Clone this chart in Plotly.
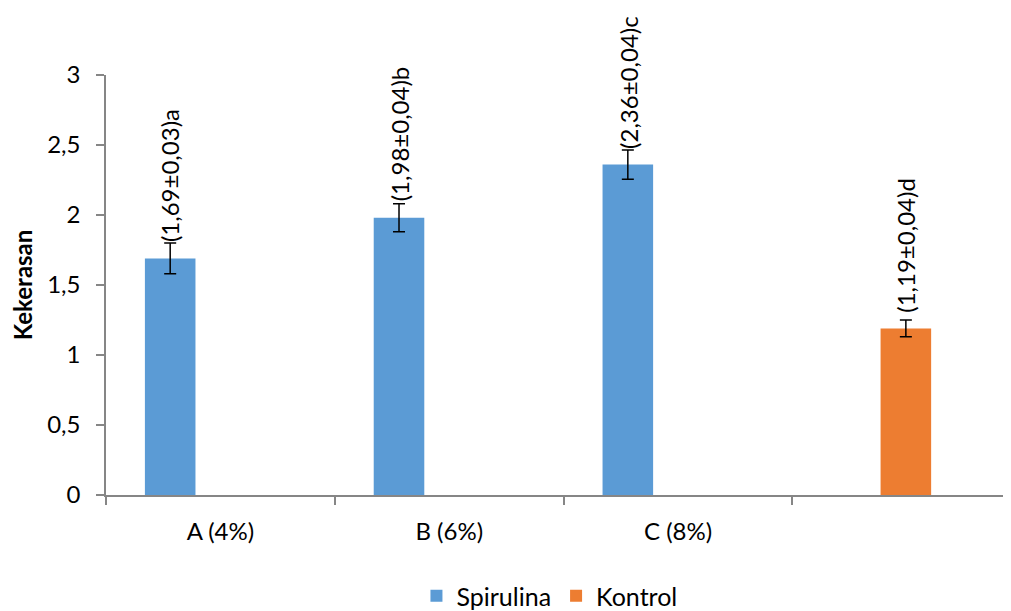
import plotly.graph_objects as go

categories = ["A (4%)", "B (6%)", "C (8%)", " "]
spirulina_x = ["A (4%)", "B (6%)", "C (8%)"]
spirulina_y = [1.69, 1.98, 2.36]
spirulina_err = [0.11, 0.10, 0.105]
spirulina_labels = ["(1,69±0,03)a", "(1,98±0,04)b", "(2,36±0,04)c"]
kontrol_x = [" "]
kontrol_y = [1.19]
kontrol_err = [0.06]
kontrol_labels = ["(1,19±0,04)d"]
y_ticks = [0, 0.5, 1, 1.5, 2, 2.5, 3]

FONT = "Lato, 'Open Sans', sans-serif"
AXIS_COLOR = "#868686"
BAR_W = 0.221
BLUE_OFF = -0.33
ORANGE_OFF = -0.115

fig = go.Figure()
fig.add_trace(go.Bar(
    name="Spirulina", x=spirulina_x, y=spirulina_y,
    marker=dict(color="#5B9BD5", line=dict(width=0)),
    width=BAR_W, offset=BLUE_OFF,
    error_y=dict(type="data", array=spirulina_err, color="black", thickness=1.5, width=6),
))
fig.add_trace(go.Bar(
    name="Kontrol", x=kontrol_x, y=kontrol_y,
    marker=dict(color="#ED7D31", line=dict(width=0)),
    width=BAR_W, offset=ORANGE_OFF,
    error_y=dict(type="data", array=kontrol_err, color="black", thickness=1.5, width=6),
))

annotations = []
for xs, ys, labs, off in [(spirulina_x, spirulina_y, spirulina_labels, BLUE_OFF),
                          (kontrol_x, kontrol_y, kontrol_labels, ORANGE_OFF)]:
    for cx, yv, lab in zip(xs, ys, labs):
        idx = categories.index(cx)
        annotations.append(dict(
            x=idx + off + BAR_W / 2, y=yv, xref="x", yref="y",
            text=lab, showarrow=False, textangle=-90,
            xanchor="center", yanchor="bottom", yshift=14,
            font=dict(family=FONT, size=24, color="black"),
        ))

fig.update_layout(
    width=1011, height=650,
    margin=dict(l=96, r=8, t=67, b=163),
    paper_bgcolor="white", plot_bgcolor="white",
    separators=",.",
    barmode="overlay",
    font=dict(family=FONT, size=24, color="black"),
    showlegend=True,
    legend=dict(orientation="h", x=0.49, xanchor="center", y=-0.186, yanchor="top",
                font=dict(family=FONT, size=25, color="black"), itemwidth=30),
    annotations=annotations,
    xaxis=dict(
        type="category", categoryorder="array", categoryarray=categories,
        range=[-0.5, 3.455], tickson="boundaries", ticks="outside", ticklen=8,
        tickcolor=AXIS_COLOR, tickwidth=1.5, showline=True, linecolor=AXIS_COLOR,
        linewidth=1.5, showgrid=False, zeroline=False, ticklabelstandoff=14,
        tickfont=dict(family=FONT, size=24, color="black"),
    ),
    yaxis=dict(
        range=[0, 3], tickvals=y_ticks, ticks="outside", ticklen=8,
        tickcolor=AXIS_COLOR, tickwidth=1.5, showline=True, linecolor=AXIS_COLOR,
        linewidth=1.5, showgrid=False, zeroline=False, ticklabelstandoff=11,
        tickfont=dict(family=FONT, size=24, color="black"),
        title=dict(text="<b>Kekerasan</b>", standoff=14,
                   font=dict(family=FONT, size=24, color="black")),
    ),
)

fig.write_html("out.html")
